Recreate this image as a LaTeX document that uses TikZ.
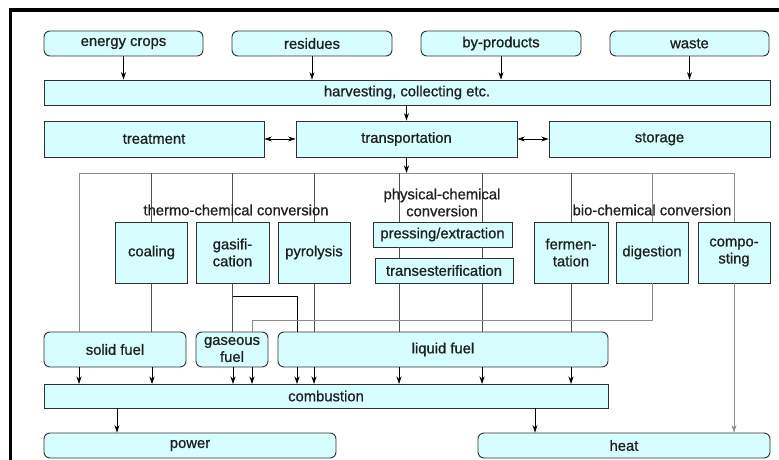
\documentclass[tikz,border=0pt]{standalone}
\usepackage{fontspec}
\setmainfont{Liberation Sans}
\newfontfamily\diagfont{Liberation Sans}[FakeBold=0.9]
\usetikzlibrary{arrows.meta,calc}
\definecolor{boxfill}{HTML}{D6FEFE}
\definecolor{boxline}{HTML}{303030}
\definecolor{lgray}{HTML}{8C8C8C}
\definecolor{dgray}{HTML}{505050}
\begin{document}
\begin{tikzpicture}[x=1pt,y=-1pt,
  lbl/.style={font=\diagfont\fontsize{14.8}{17}\selectfont, text=black!88},
  box/.style={draw=boxline, fill=boxfill, line width=0.9pt, inner sep=0pt, lbl, align=center},
  rbox/.style={box, rounded corners=6pt},
  conn/.style={draw=dgray, line width=0.8pt},
  lconn/.style={draw=lgray, line width=0.8pt},
  bconn/.style={draw=black, line width=0.8pt},
  arr/.style={-{Stealth[length=7.5pt,width=5pt]}},
  darr/.style={{Stealth[length=7.5pt,width=5pt]}-{Stealth[length=7.5pt,width=5pt]}}
]
\useasboundingbox (0,0) rectangle (779,460);
% frame (top and left visible)
\draw[line width=3.4pt] (10.5,460) -- (10.5,10) -- (779,10);

% top sources
\node[rbox, minimum width=159pt, minimum height=25pt] (ec) at (123.5,43.5) {energy crops};
\node[rbox, minimum width=160pt, minimum height=25pt] (res) at (312,43.5) {residues};
\node[rbox, minimum width=160pt, minimum height=25pt] (byp) at (501,43.5) {by-products};
\node[rbox, minimum width=159pt, minimum height=25pt] (waste) at (689.5,43.5) {waste};

\node[box, minimum width=726pt, minimum height=25pt] (harv) at (407,92.5) {harvesting, collecting etc.};

\node[box, minimum width=220pt, minimum height=36pt] (treat) at (154,139) {treatment};
\node[box, minimum width=221pt, minimum height=36pt] (trans) at (406.5,139) {transportation};
\node[box, minimum width=221pt, minimum height=36pt] (stor) at (659.5,139) {storage};

% distribution line coordinates
\coordinate (hl) at (79,173);
\coordinate (hr) at (734,173);
\coordinate (hm) at (406.5,173);

% conversion boxes
\node[box, minimum width=72pt, minimum height=61pt] (coal) at (151.5,252.5) {coaling};
\node[box, minimum width=73pt, minimum height=61pt] (gasi) at (232.5,252.5) {gasifi-\\cation};
\node[box, minimum width=72pt, minimum height=61pt] (pyro) at (314,252.5) {pyrolysis};
\node[box, minimum width=139pt, minimum height=25pt] (press) at (442.5,234.5) {pressing/extraction};
\node[box, minimum width=138pt, minimum height=25pt] (trest) at (444,270.5) {transesterification};
\node[box, minimum width=74pt, minimum height=61pt] (ferm) at (571,252.5) {fermen-\\tation};
\node[box, minimum width=72pt, minimum height=61pt] (dig) at (652,252.5) {digestion};
\node[box, minimum width=72pt, minimum height=61pt] (comp) at (734,252.5) {compo-\\sting};

% fuels
\node[rbox, minimum width=142pt, minimum height=35pt] (solid) at (115,349.5) {solid fuel};
\node[rbox, minimum width=72pt, minimum height=35pt] (gas) at (232,349.5) {gaseous\\fuel};
\node[rbox, minimum width=330pt, minimum height=35pt] (liq) at (443,349.5) {liquid fuel};

\node[box, minimum width=564pt, minimum height=24pt] (comb) at (326,396) {combustion};
\node[rbox, minimum width=292pt, minimum height=25pt] (power) at (190,445.5) {power};
\node[rbox, minimum width=292pt, minimum height=25pt] (heat) at (624,445.5) {heat};

% top connectors
\foreach \n in {ec,res,byp,waste}
  \draw[bconn,arr] (\n.south) -- (\n.south |- harv.north);
\draw[bconn,arr] (harv.south -| trans.north) -- (trans.north);
\draw[bconn,darr] (treat.east) -- (trans.west);
\draw[bconn,darr] (trans.east) -- (stor.west);
\draw[bconn,arr] (trans.south) -- (hm);

% distribution
\draw[lconn] (hl) -- (hr);
\draw[lconn] (hl) -- (hl |- solid.north);
\draw[conn] (coal.north |- hl) -- (coal.north);
\draw[conn] (gasi.north |- hl) -- (gasi.north);
\draw[conn] (pyro.north |- hl) -- (pyro.north);
\coordinate (p1) at (399,173);
\coordinate (p2) at (482,173);
\draw[conn] (p1) -- (p1 |- press.north);
\draw[conn] (p2) -- (p2 |- press.north);
\draw[conn] (p1 |- press.south) -- (p1 |- trest.north);
\draw[conn] (p2 |- press.south) -- (p2 |- trest.north);
\draw[conn] (ferm.north |- hl) -- (ferm.north);
\draw[lconn] (dig.north |- hl) -- (dig.north);
\draw[lconn] (comp.north |- hl) -- (comp.north);

% conversion -> fuels
\draw[conn] (coal.south) -- (coal.south |- solid.north);
\draw[conn] (gasi.south) -- (gasi.south |- gas.north);
\coordinate (gb) at (297,296);
\draw[bconn] (gasi.south |- gb) -- (gb) -- (gb |- liq.north);
\draw[conn] (pyro.south) -- (pyro.south |- liq.north);
\draw[conn] (p1 |- trest.south) -- (p1 |- liq.north);
\draw[conn] (p2 |- trest.south) -- (p2 |- liq.north);
\draw[conn] (ferm.south) -- (ferm.south |- liq.north);
\coordinate (dg) at (252,320);
\draw[lconn] (dig.south) -- (dig.south |- dg) -- (dg) -- (dg |- gas.north);
\draw[lconn,arr] (comp.south) -- (comp.south |- heat.north);

% fuels -> combustion
\foreach \x in {79,152}
  \draw[bconn,arr] (\x,367) -- (\x,384);
\foreach \x in {233,252}
  \draw[bconn,arr] (\x,367) -- (\x,384);
\foreach \x in {297,314,399,482,571}
  \draw[bconn,arr] (\x,367) -- (\x,384);

% combustion -> outputs
\draw[bconn,arr] (comb.south -| 117,0) -- (power.north -| 117,0);
\draw[bconn,arr] (comb.south -| 535,0) -- (heat.north -| 535,0);

% group labels
\node[lbl] (tlab) at (236,210) {thermo-chemical conversion};
\node[lbl, align=center] (plab) at (442,202.5) {physical-chemical\\conversion};
\node[lbl] (blab) at (652,210) {bio-chemical conversion};
\end{tikzpicture}
\end{document}
